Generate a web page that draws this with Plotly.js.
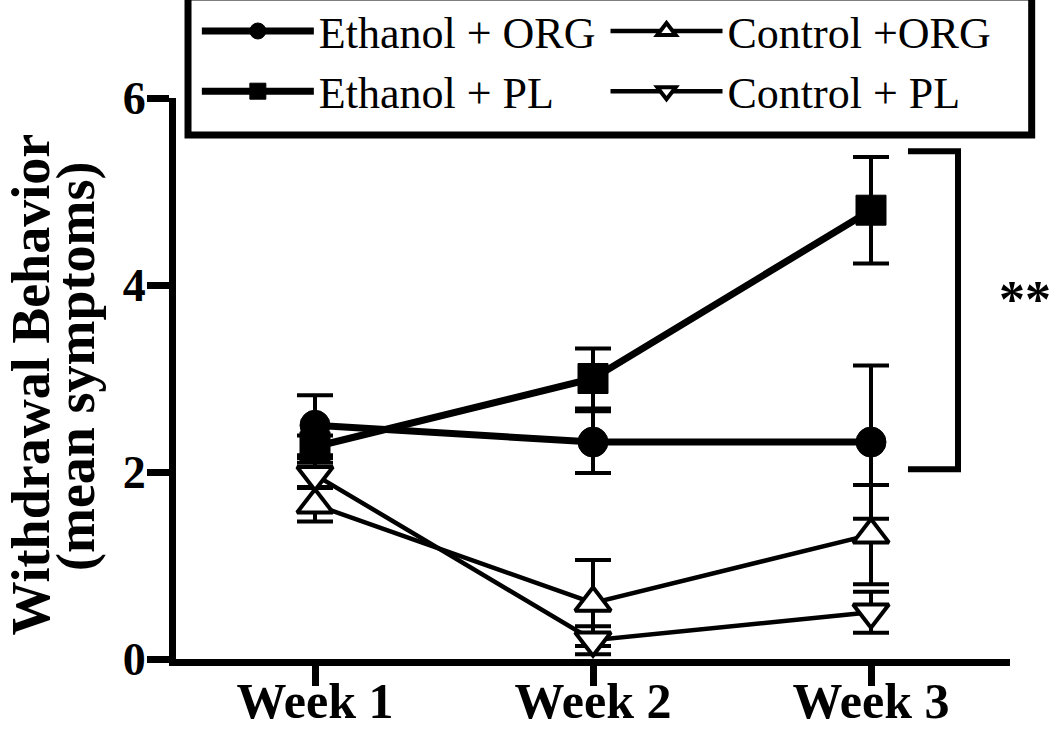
<!DOCTYPE html>
<html>
<head>
<meta charset="utf-8">
<script src="https://cdn.plot.ly/plotly-3.0.1.min.js"></script>
<style>html,body{margin:0;padding:0;background:#fff;}#chart{width:1050px;height:731px;}</style>
</head>
<body>
<div id="chart"></div>
<script>
const weeks = ['Week 1', 'Week 2', 'Week 3'];
const seriesNames = ['Ethanol + ORG', 'Control +ORG', 'Ethanol + PL', 'Control + PL'];
const ethanolORG = [2.50, 2.32, 2.32];
const ethanolORGErr = [0.32, 0.33, 0.82];
const ethanolPL = [2.27, 3.00, 4.80];
const ethanolPLErr = [0.12, 0.32, 0.57];
const controlORG = [1.65, 0.60, 1.33];
const controlORGErr = [0.18, 0.46, 0.53];
const controlPL = [1.97, 0.20, 0.50];
const controlPLErr = [0.13, 0.15, 0.22];
const yTicks = [0, 2, 4, 6];
const yTitle1 = 'Withdrawal Behavior';
const yTitle2 = '(mean symptoms)';
const sigLabel = '**';

const serif = 'Liberation Serif, Times New Roman, serif';

function mk(name, y, err, symbol, fill, lw, msize, mlw, leg) {
  return {
    type: 'scatter', mode: 'lines+markers', name: name, legend: leg,
    x: weeks, y: y, cliponaxis: false,
    line: {color: '#000', width: lw},
    marker: {symbol: symbol, size: msize, color: fill, line: {color: '#000', width: mlw}},
    error_y: {type: 'data', array: err, visible: true, color: '#000', thickness: 4, width: 18}
  };
}

const traces = [
  mk(seriesNames[0], ethanolORG, ethanolORGErr, 'circle', '#000', 7, 30, 1, 'legend'),
  mk(seriesNames[1], controlORG, controlORGErr, 'triangle-up', '#fff', 4.5, 31, 4, 'legend2'),
  mk(seriesNames[2], ethanolPL, ethanolPLErr, 'square', '#000', 7, 30, 1, 'legend'),
  mk(seriesNames[3], controlPL, controlPLErr, 'triangle-down', '#fff', 4.5, 31, 4, 'legend2')
];

const legendBase = {
  orientation: 'v', yanchor: 'top', xanchor: 'left',
  bgcolor: 'rgba(0,0,0,0)', borderwidth: 0,
  font: {family: serif, size: 44, color: '#000'},
  itemwidth: 112, tracegroupgap: 0
};

const layout = {
  width: 1050, height: 731,
  margin: {l: 176, r: 40, t: 98, b: 72, pad: 0, autoexpand: false},
  paper_bgcolor: '#fff', plot_bgcolor: '#fff',
  font: {family: serif, color: '#000'},
  showlegend: true,
  legend: Object.assign({}, legendBase, {x: 0.025, y: 1.182}),
  legend2: Object.assign({}, legendBase, {x: 0.515, y: 1.182}),
  xaxis: {
    type: 'category', range: [-0.5, 2.5],
    showline: true, linecolor: '#000', linewidth: 7,
    ticks: 'outside', ticklen: 20, tickwidth: 7, tickcolor: '#000',
    ticklabelstandoff: -28,
    showgrid: false, zeroline: false,
    tickfont: {family: serif, size: 50, color: '#000', weight: 'bold'}
  },
  yaxis: {
    range: [0, 6], tickvals: yTicks,
    showline: true, linecolor: '#000', linewidth: 7,
    ticks: 'outside', ticklen: 22, tickwidth: 7, tickcolor: '#000',
    ticklabelstandoff: -8,
    showgrid: false, zeroline: false,
    tickfont: {family: serif, size: 46, color: '#000', weight: 'bold'}
  },
  shapes: [
    {type: 'rect', xref: 'paper', yref: 'paper', x0: 0.0144, x1: 1.026, y0: 0.934, y1: 1.18,
     line: {color: '#000', width: 7}, fillcolor: 'rgba(0,0,0,0)'},
    {type: 'path', xref: 'x', yref: 'y',
     path: 'M 2.133,5.43 L 2.313,5.43 L 2.313,2.03 L 2.133,2.03',
     line: {color: '#000', width: 6}}
  ],
  annotations: [
    {text: '<b>' + sigLabel + '</b>', xref: 'paper', yref: 'paper', x: 1.018, y: 0.64, showarrow: false,
     font: {family: serif, size: 52, color: '#000'}, xanchor: 'center', yanchor: 'middle'},
    {text: '<b>' + yTitle1 + '</b>', xref: 'paper', yref: 'paper', x: -0.1735, y: 0.49, textangle: -90,
     showarrow: false, xanchor: 'center', yanchor: 'middle', borderpad: 0, font: {family: serif, size: 54, color: '#000'}},
    {text: '<b>' + yTitle2 + '</b>', xref: 'paper', yref: 'paper', x: -0.12, y: 0.522, textangle: -90,
     showarrow: false, xanchor: 'center', yanchor: 'middle', borderpad: 0, font: {family: serif, size: 54, color: '#000'}}
  ]
};

Plotly.newPlot('chart', traces, layout, {displayModeBar: false, staticPlot: true});
</script>
</body>
</html>
